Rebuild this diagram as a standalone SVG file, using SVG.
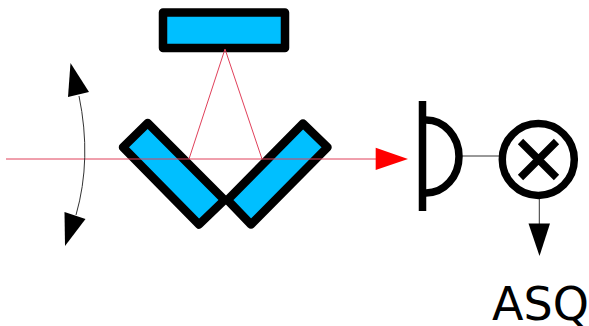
<svg xmlns="http://www.w3.org/2000/svg" width="589" height="326" viewBox="0 0 589 326">
<style>
.m{fill:#00bfff;stroke:#000;stroke-width:8.5;stroke-linejoin:round}
.r{fill:none;stroke:#e0405a;stroke-width:1}
.c{fill:none;stroke:#333;stroke-width:1}
.k{fill:none;stroke:#000;stroke-width:7.500}
.h{fill:#000;stroke:none}
</style>
<rect width="589" height="326" fill="#fff"/>
<g id="mirror-top"><rect class="m" x="163" y="12.500" width="122" height="35.500"/></g>
<g id="mirror-left"><polygon class="m" points="147.700,123 123,147.300 199,224.500 224.500,200"/></g>
<g id="mirror-right"><polygon class="m" points="303,123.500 327.500,147.300 251,224.500 227.500,200"/></g>
<g id="connectors">
<path class="r" d="M6 159H380M189 159L225 49L262 159"/>
<path class="c" d="M79 96Q92 159 76 215M462 156H499M539.300 199V224"/>
<polygon class="h" points="70.500,63 68,97 89,92"/>
<polygon class="h" points="65,246 64.500,212 85.500,219"/>
<polygon points="375.700,147.700 408,159 375.700,170" fill="#f00"/>
<polygon class="h" points="528.500,223.500 550,223.500 539.500,256"/>
</g>
<g id="detector">
<path class="k" d="M422.500 101V211"/>
<path class="k" d="M426 120A33 36.500 0 0 1 426 193"/>
</g>
<g id="mixer">
<circle class="k" cx="538.300" cy="159.500" r="36"/>
<path class="k" d="M520.500 141.500L556.500 177.500M556.500 141.500L520.500 177.500"/>
</g>
<g id="label"><text x="492" y="319.500" font-family="'DejaVu Sans',sans-serif" font-size="46" fill="#000">ASQ</text></g>
</svg>
